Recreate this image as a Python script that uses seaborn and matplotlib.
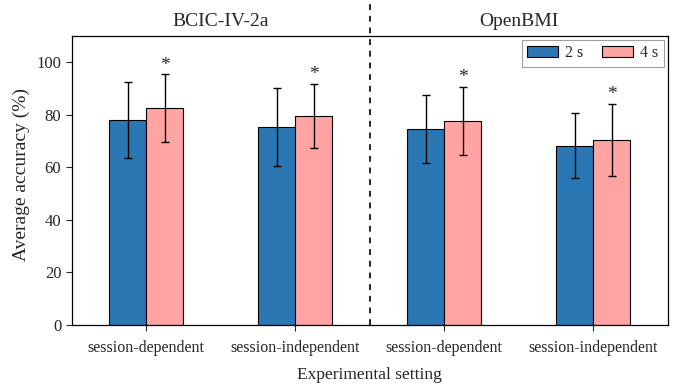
import matplotlib
matplotlib.use("Agg")
import matplotlib.pyplot as plt
import seaborn as sns
import pandas as pd
import numpy as np

datasets = ["BCIC-IV-2a", "BCIC-IV-2a", "OpenBMI", "OpenBMI"]
settings = ["session-dependent", "session-independent", "session-dependent", "session-independent"]
windows = ["2 s", "4 s"]
mean_2s = [77.9, 75.3, 74.6, 68.2]
std_2s = [14.5, 14.9, 13.0, 12.5]
mean_4s = [82.5, 79.5, 77.6, 70.4]
std_4s = [12.8, 12.1, 13.0, 13.7]
dataset_names = ["BCIC-IV-2a", "OpenBMI"]

sns.set_theme(style="ticks")
plt.rcParams['font.family'] = ['Liberation Serif', 'DejaVu Serif']
plt.rcParams['mathtext.fontset'] = 'stix'

keys = [f"{d}|{s}" for d, s in zip(datasets, settings)]
rows = []
for k, m2, s2, m4, s4 in zip(keys, mean_2s, std_2s, mean_4s, std_4s):
    rows.append({"cond": k, "win": windows[0], "acc": m2, "sd": s2})
    rows.append({"cond": k, "win": windows[1], "acc": m4, "sd": s4})
df = pd.DataFrame(rows)

fig = plt.figure(figsize=(6.78, 3.85), dpi=100)
ax = fig.add_axes([0.1058, 0.1566, 0.8790, 0.7504])

palette = {"2 s": "#2b77b4", "4 s": "#ffa3a3"}
sns.barplot(data=df, x="cond", y="acc", hue="win", order=keys, hue_order=windows,
            palette=palette, errorbar=None, width=0.5, edgecolor="black",
            linewidth=0.8, saturation=1, ax=ax)

# error bars and stars from bar patches
bars = [p for p in ax.patches if p.get_height() > 0]
bars_sorted = sorted(bars, key=lambda p: p.get_x())
sd_lookup = {}
for i, k in enumerate(keys):
    sd_lookup[(i, 0)] = std_2s[i]
    sd_lookup[(i, 1)] = std_4s[i]
for p in bars_sorted:
    cx = p.get_x() + p.get_width() / 2
    gi = int(round(cx))
    hi = 0 if cx < gi else 1
    sd = sd_lookup[(gi, hi)]
    h = p.get_height()
    ax.errorbar(cx, h, yerr=sd, fmt="none", ecolor="black", elinewidth=1.0,
                capsize=2.6, capthick=1.0, zorder=5)
    if hi == 1:
        ax.text(cx, h + sd + 0.3, "*", ha="center", va="bottom", fontsize=14)

ax.set_xlim(-0.5, 3.5)
ax.set_ylim(0, 110)
ax.set_yticks([0, 20, 40, 60, 80, 100])
ax.set_xticks(range(4))
ax.set_xticklabels(settings, fontsize=11.5)
ax.tick_params(axis="y", labelsize=12, direction="out", length=4, width=0.8)
ax.tick_params(axis="x", direction="out", length=4, width=0.8, pad=7)
ax.set_xlabel("Experimental setting", fontsize=12.5, labelpad=8)
ax.set_ylabel("Average accuracy (%)", fontsize=14)
ax.yaxis.set_label_coords(-0.07, 0.52)
for sp in ax.spines.values():
    sp.set_linewidth(0.9)
    sp.set_color("black")

# divider dashed line extending above axes
ax.plot([1.5, 1.5], [0, 123], ls=(0, (3.5, 3.5)), color="black", lw=1.2,
        clip_on=False, zorder=6)

for j, name in enumerate(dataset_names):
    ax.text(0.5 + 2 * j, 115.5, name, ha="center", va="center", fontsize=14)

leg = ax.legend(loc="upper right", ncol=2, fontsize=11.5, frameon=True, fancybox=False,
                edgecolor="#888888", handlelength=1.9, handleheight=0.65,
                columnspacing=1.2, handletextpad=0.45, borderpad=0.35,
                borderaxespad=0.25)
leg.get_frame().set_linewidth(0.8)

fig.savefig("out.png", dpi=100)
